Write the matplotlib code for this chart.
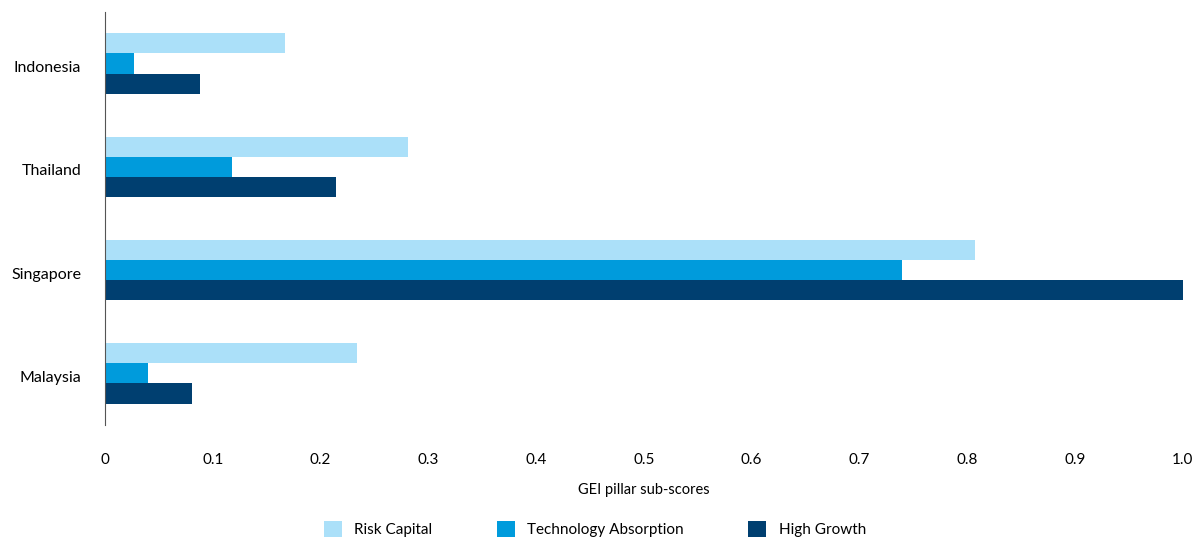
import numpy as np
import matplotlib.pyplot as plt

plt.rcParams['font.family'] = ['Lato', 'DejaVu Sans']

countries = ['Indonesia', 'Thailand', 'Singapore', 'Malaysia']
risk_capital = [0.167, 0.281, 0.807, 0.234]
tech_absorption = [0.027, 0.118, 0.740, 0.040]
high_growth = [0.088, 0.214, 1.000, 0.081]

series = [
    ('Risk Capital', risk_capital, '#abe0f9'),
    ('Technology Absorption', tech_absorption, '#009bdc'),
    ('High Growth', high_growth, '#003f70'),
]

fig = plt.figure(figsize=(11.97, 5.40), dpi=100)
ax = fig.add_axes([0.0877, 0.213, 0.9003, 0.765])

y = np.arange(len(countries))
h = 0.195
for i, (name, vals, col) in enumerate(series):
    ax.barh(y + (i - 1) * h, vals, h, color=col, label=name)

ax.set_ylim(3.5, -0.5)
ax.set_xlim(0, 1.0)
ax.set_yticks(y + 0.03)
ax.set_yticklabels(countries, fontsize=11.5)
xt = np.arange(0, 1.01, 0.1)
ax.set_xticks(xt)
ax.set_xticklabels(['0'] + [f'{v:.1f}' for v in xt[1:]], fontsize=11)
ax.tick_params(axis='both', length=0)
ax.tick_params(axis='x', pad=20)
ax.tick_params(axis='y', pad=17)
for s in ['top', 'right', 'bottom']:
    ax.spines[s].set_visible(False)
ax.spines['left'].set_color('#555555')
ax.set_xlabel('GEI pillar sub-scores', fontsize=10.5, labelpad=12)

fig.legend(loc='lower center', bbox_to_anchor=(0.497, -0.02), ncol=3, frameon=False,
           fontsize=11, handlelength=1.2, handleheight=1.2, columnspacing=4.2)

fig.savefig('out.png', dpi=100)
